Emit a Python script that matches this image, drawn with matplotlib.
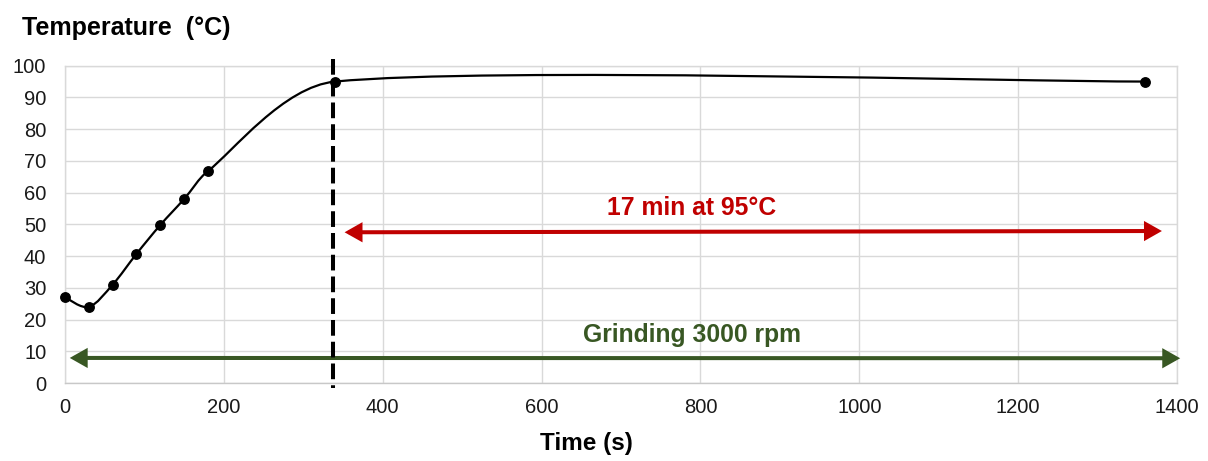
import numpy as np
import matplotlib
matplotlib.use("Agg")
import matplotlib.pyplot as plt
from matplotlib.path import Path
from matplotlib.patches import PathPatch, FancyArrowPatch, ArrowStyle

# Measured temperature during the heating / grinding run
time_s = [0, 30, 60, 90, 120, 150, 180, 340, 1360]
temp_c = [27.0, 24.0, 31.0, 40.7, 49.8, 58.0, 66.8, 95.0, 95.0]

# Phase annotations
hold_start = 337
hold_label = "17 min at 95°C"
hold_span = [352, 1381]
hold_level = [47.5, 47.9]
grind_label = "Grinding 3000 rpm"
grind_span = [6, 1404]
grind_level = [7.9, 7.8]

xticks = list(range(0, 1401, 200))
yticks = list(range(0, 101, 10))

RED = "#C00000"
GREEN = "#385723"
GRID = "#D9D9D9"

plt.rcParams["font.family"] = ["Liberation Sans", "DejaVu Sans"]

fig = plt.figure(figsize=(12.08, 4.61), dpi=100)
ax = fig.add_axes([65 / 1208, 1 - 383 / 461, 1112 / 1208, (383 - 65.7) / 461])
ax.set_xlim(0, 1400)
ax.set_ylim(0, 100)
ax.set_xticks(xticks)
ax.set_yticks(yticks)
ax.tick_params(length=0, labelsize=14.5, colors="#1a1a1a")
ax.tick_params(axis="x", pad=11)
ax.tick_params(axis="y", pad=13.5)
ax.grid(True, color=GRID, lw=1.0)
ax.set_axisbelow(True)
for sp in ax.spines.values():
    sp.set_color(GRID)
    sp.set_linewidth(1.0)
ax.spines["bottom"].set_color("#C8C8C8")


def smooth_path(axes, xs, ys, tension=1 / 6):
    """Bezier smoothing in screen space, with control arms capped by segment length."""
    pts = axes.transData.transform(np.column_stack([xs, ys]))
    n = len(pts)

    def tangent(i):
        prev = pts[max(i - 1, 0)]
        nxt = pts[min(i + 1, n - 1)]
        return (nxt - prev) * tension

    verts = [pts[0]]
    codes = [Path.MOVETO]
    for i in range(n - 1):
        p0, p1 = pts[i], pts[i + 1]
        seg = np.hypot(*(p1 - p0))
        t0, t1 = tangent(i), tangent(i + 1)
        l0, l1 = np.hypot(*t0), np.hypot(*t1)
        if l0 > seg / 3:
            t0 = t0 * (seg / 3) / l0
        if l1 > seg / 3:
            t1 = t1 * (seg / 3) / l1
        verts += [p0 + t0, p1 - t1, p1]
        codes += [Path.CURVE4] * 3
    verts = axes.transData.inverted().transform(np.array(verts))
    return Path(verts, codes)


curve = smooth_path(ax, time_s, temp_c)
ax.add_patch(PathPatch(curve, fill=False, edgecolor="black", lw=1.6, zorder=3))
ax.plot(time_s, temp_c, ls="none", marker="o", ms=6.8, color="black",
        clip_on=False, zorder=4)

# End of heating ramp
ax.plot([hold_start, hold_start], [102.1, -1.6], color="black", lw=2.9,
        dashes=(3.9, 1.5), solid_capstyle="butt", dash_capstyle="butt",
        clip_on=False, zorder=5)


def double_arrow(span, level, color):
    style = ArrowStyle("<|-|>", head_length=8.5, head_width=4.8)
    arr = FancyArrowPatch((span[0], level[0]), (span[1], level[1]),
                          arrowstyle=style, mutation_scale=1, lw=2.9,
                          color=color, shrinkA=0, shrinkB=0,
                          joinstyle="miter", capstyle="butt",
                          clip_on=False, zorder=4)
    ax.add_patch(arr)


double_arrow(hold_span, hold_level, RED)
double_arrow(grind_span, grind_level, GREEN)

ax.text(789, 52.9, hold_label, color=RED, fontsize=17.8, fontweight="bold",
        ha="center", va="baseline")
ax.text(789, 13.0, grind_label, color=GREEN, fontsize=17.8, fontweight="bold",
        ha="center", va="baseline")

ax.set_ylabel("Temperature  (°C)", rotation=0, fontsize=18, fontweight="bold",
              ha="left", va="baseline", color="black")
ax.yaxis.set_label_coords((22 - 65) / 1112, (383 - 35) / 317.3)
ax.set_xlabel("Time (s)", fontsize=17.5, fontweight="bold", va="baseline",
              color="black")
ax.xaxis.set_label_coords((586 - 65) / 1112, (383 - 450) / 317.3)

fig.savefig("out.png", dpi=100)
